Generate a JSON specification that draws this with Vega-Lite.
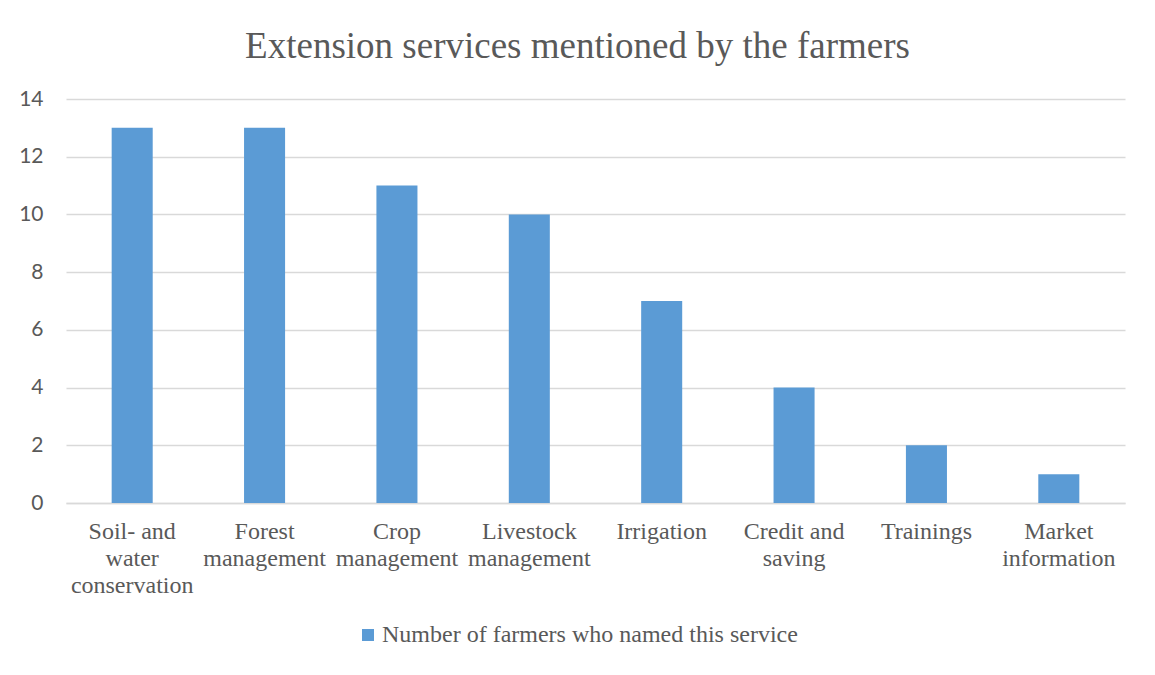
{
  "$schema": "https://vega.github.io/schema/vega-lite/v6.json",
  "width": 1059,
  "height": 404,
  "autosize": {"type": "none"},
  "padding": {"left": 66, "top": 99, "right": 30, "bottom": 172},
  "background": "white",
  "title": {
    "text": "Extension services mentioned by the farmers",
    "font": "Liberation Serif",
    "fontSize": 37,
    "fontWeight": "normal",
    "color": "#595959",
    "anchor": "middle",
    "frame": "group",
    "dx": -18,
    "offset": 22
  },
  "data": {
    "values": [
      {"service": "Soil- and|water|conservation", "count": 13},
      {"service": "Forest|management", "count": 13},
      {"service": "Crop|management", "count": 11},
      {"service": "Livestock|management", "count": 10},
      {"service": "Irrigation", "count": 7},
      {"service": "Credit and|saving", "count": 4},
      {"service": "Trainings", "count": 2},
      {"service": "Market|information", "count": 1}
    ]
  },
  "mark": {"type": "bar"},
  "encoding": {
    "x": {
      "field": "service",
      "type": "nominal",
      "sort": null,
      "title": null,
      "scale": {"paddingInner": 0.69, "paddingOuter": 0.345},
      "axis": {
        "labelExpr": "split(datum.label, '|')",
        "labelAngle": 0,
        "labelFont": "Liberation Serif",
        "labelFontSize": 24,
        "labelColor": "#595959",
        "labelLineHeight": 27,
        "labelPadding": 16,
        "labelLimit": 300,
        "ticks": false,
        "domainColor": "#D9D9D9",
        "domainWidth": 1.5,
        "grid": false
      }
    },
    "y": {
      "field": "count",
      "type": "quantitative",
      "title": null,
      "scale": {"domain": [0, 14], "nice": false},
      "axis": {
        "values": [0, 2, 4, 6, 8, 10, 12, 14],
        "labelFont": "Lato",
        "labelFontSize": 21,
        "labelColor": "#595959",
        "labelPadding": 23,
        "ticks": false,
        "domain": false,
        "gridColor": "#D9D9D9",
        "gridWidth": 1.5
      }
    },
    "color": {
      "datum": "Number of farmers who named this service",
      "type": "nominal",
      "scale": {"range": ["#5B9BD5"]},
      "legend": {
        "title": null,
        "orient": "none",
        "legendX": 290,
        "legendY": 524,
        "padding": 0,
        "symbolType": "square",
        "symbolSize": 144,
        "symbolStrokeWidth": 0,
        "labelFont": "Liberation Serif",
        "labelFontSize": 24,
        "labelColor": "#595959",
        "labelOffset": 2,
        "labelLimit": 600
      }
    }
  },
  "config": {"view": {"stroke": null}}
}
